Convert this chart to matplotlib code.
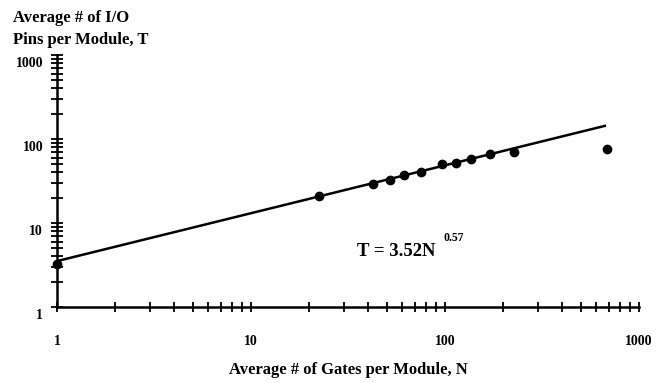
import numpy as np
import matplotlib.pyplot as plt
import matplotlib.transforms as mtrans
from matplotlib.ticker import LogLocator, NullFormatter, FixedFormatter, FixedLocator

# data
gates = [1, 22.4, 42.5, 52, 61.5, 75, 96.5, 114, 136, 171, 227, 684]
pins = [3.25, 21, 29.1, 32.5, 37.3, 41, 50.4, 51.8, 57.8, 66.2, 70, 76]

# Rent's rule fit T = k * N^p
k = 3.52
p = 0.57
fit_n = [1, 676]

ticks = [1, 10, 100, 1000]
tick_labels = ["1", "10", "100", "1000"]

plt.rcParams['font.family'] = ['Liberation Serif', 'DejaVu Serif']
plt.rcParams['font.weight'] = 'bold'

fig = plt.figure(figsize=(6.68, 3.83), dpi=100)
ax = fig.add_axes([57/668, 1-307/383, (639-57)/668, (307-55)/383])

nn = np.array(fit_n, dtype=float)
ax.plot(nn, k*nn**p, color="black", lw=1.8, solid_capstyle="butt")
ax.plot(gates, pins, "o", color="black", ms=6, clip_on=False)

ax.set_xscale("log")
ax.set_yscale("log")
ax.set_xlim(1, 1000)
ax.set_ylim(1, 1000)

for s in ["top", "right"]:
    ax.spines[s].set_visible(False)
for s in ["left", "bottom"]:
    ax.spines[s].set_linewidth(1.8)

for a in [ax.xaxis, ax.yaxis]:
    a.set_major_locator(FixedLocator(ticks))
    a.set_major_formatter(FixedFormatter(tick_labels))
    a.set_minor_locator(LogLocator(base=10, subs=np.arange(2, 10)))
    a.set_minor_formatter(NullFormatter())

ax.tick_params(which="both", direction="inout", width=1.3, labelsize=10)
ax.tick_params(axis="x", which="both", length=7, pad=17)
ax.tick_params(axis="y", which="both", length=8, pad=6)

# y tick labels sit a bit below their ticks
off = mtrans.ScaledTranslation(0, -7/100, fig.dpi_scale_trans)
for lab in ax.get_yticklabels():
    lab.set_transform(lab.get_transform() + off)

fig.text(13/668, 1-18/383, "Average # of I/O", fontsize=12, fontweight="bold", va="center")
fig.text(13/668, 1-40/383, "Pins per Module, T", fontsize=12, fontweight="bold", va="center")
fig.text(348/668, 1-370/383, "Average # of Gates per Module, N", fontsize=12,
         fontweight="bold", ha="center", va="center")

fig.text(357/668, 1-252/383, "T = 3.52N", fontsize=13.5, fontweight="bold",
         ha="left", va="center")
fig.text(443/668, 1-238/383, "0.57", fontsize=8.5, fontweight="bold",
         ha="left", va="center")

fig.savefig("out.png", dpi=100)
